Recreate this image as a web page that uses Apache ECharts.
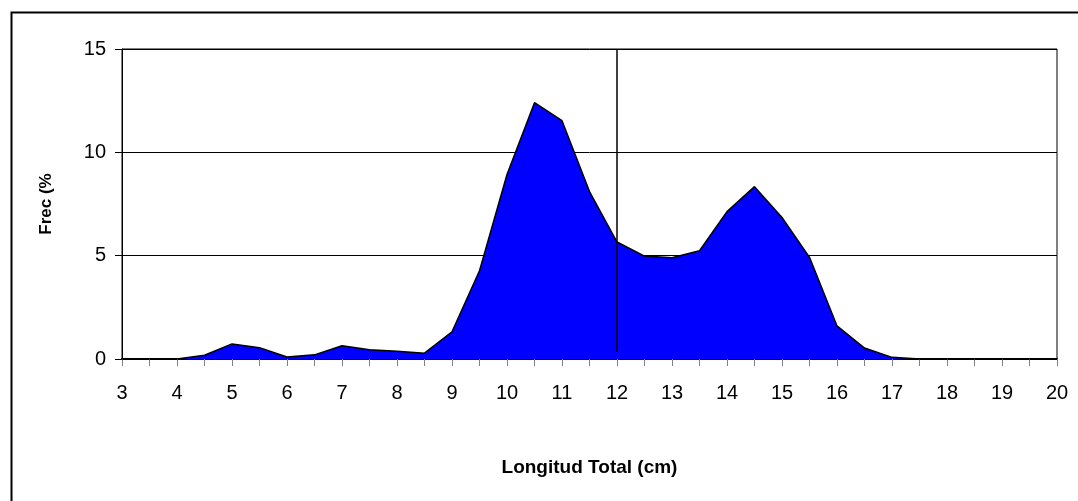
<!DOCTYPE html>
<html>
<head>
<meta charset="utf-8">
<script src="https://cdn.jsdelivr.net/npm/echarts@6/dist/echarts.min.js"></script>
<style>html,body{margin:0;padding:0;background:#fff;}#chart{width:1078px;height:501px;}</style>
</head>
<body>
<div id="chart"></div>
<script>
const lengths = [3, 3.5, 4, 4.5, 5, 5.5, 6, 6.5, 7, 7.5, 8, 8.5, 9, 9.5, 10, 10.5, 11, 11.5, 12, 12.5, 13, 13.5, 14, 14.5, 15, 15.5, 16, 16.5, 17, 17.5, 18, 18.5, 19, 19.5, 20];
const freq = [0, 0, 0, 0.18, 0.73, 0.55, 0.1, 0.2, 0.64, 0.45, 0.38, 0.28, 1.32, 4.27, 8.93, 12.4, 11.53, 8.1, 5.66, 4.98, 4.9, 5.24, 7.13, 8.34, 6.85, 4.92, 1.6, 0.53, 0.08, 0, 0, 0, 0, 0, 0];
const yTicks = [0, 5, 10, 15];
const markX = 12;
const markTop = 15;
const markBottom = 0.35;
const xTitle = 'Longitud Total (cm)';
const yTitle = 'Frec (%';

const chart = echarts.init(document.getElementById('chart'), null, {renderer: 'canvas'});
const font = 'Liberation Sans, Arial, sans-serif';
chart.setOption({
  animation: false,
  backgroundColor: '#fff',
  graphic: [{
    type: 'rect', left: 9, top: 10,
    shape: {width: 1090, height: 510},
    style: {fill: 'none', stroke: '#000', lineWidth: 2}
  }],
  grid: {left: 122, right: 21, top: 49, bottom: 142, show: true, borderColor: '#000', borderWidth: 1, backgroundColor: 'transparent'},
  xAxis: {
    type: 'value', min: 3, max: 20, interval: 0.5,
    name: xTitle, nameLocation: 'middle', nameGap: 99,
    nameTextStyle: {fontFamily: font, fontWeight: 'bold', fontSize: 19, color: '#000'},
    axisLine: {show: true, onZero: false, lineStyle: {color: '#000', width: 2}},
    axisTick: {show: true, length: 7, lineStyle: {color: '#808080', width: 1}},
    axisLabel: {
      margin: 24, fontFamily: font, fontSize: 20, color: '#000',
      formatter: v => (Math.abs(v - Math.round(v)) < 1e-9 ? String(Math.round(v)) : '')
    },
    splitLine: {show: false}
  },
  yAxis: {
    type: 'value', min: yTicks[0], max: yTicks[yTicks.length - 1], interval: 5,
    name: yTitle, nameLocation: 'middle', nameGap: 67,
    nameTextStyle: {fontFamily: font, fontWeight: 'bold', fontSize: 17, color: '#000'},
    axisLine: {show: true, lineStyle: {color: '#000', width: 1}},
    axisTick: {show: true, length: 7, lineStyle: {color: '#000'}},
    axisLabel: {margin: 16, fontFamily: font, fontSize: 20, color: '#000'},
    splitLine: {show: true, lineStyle: {color: '#000', width: 1}}
  },
  series: [{
    type: 'line',
    data: lengths.map((x, i) => [x, freq[i]]),
    symbol: 'none',
    lineStyle: {color: '#000', width: 1.5},
    areaStyle: {color: '#0000FF', opacity: 1},
    z: 2,
    markLine: {
      silent: true, symbol: ['none', 'none'],
      label: {show: false},
      lineStyle: {color: '#000', width: 1.5, type: 'solid'},
      data: [[{coord: [markX, markTop]}, {coord: [markX, markBottom]}]]
    }
  }]
});
</script>
</body>
</html>
